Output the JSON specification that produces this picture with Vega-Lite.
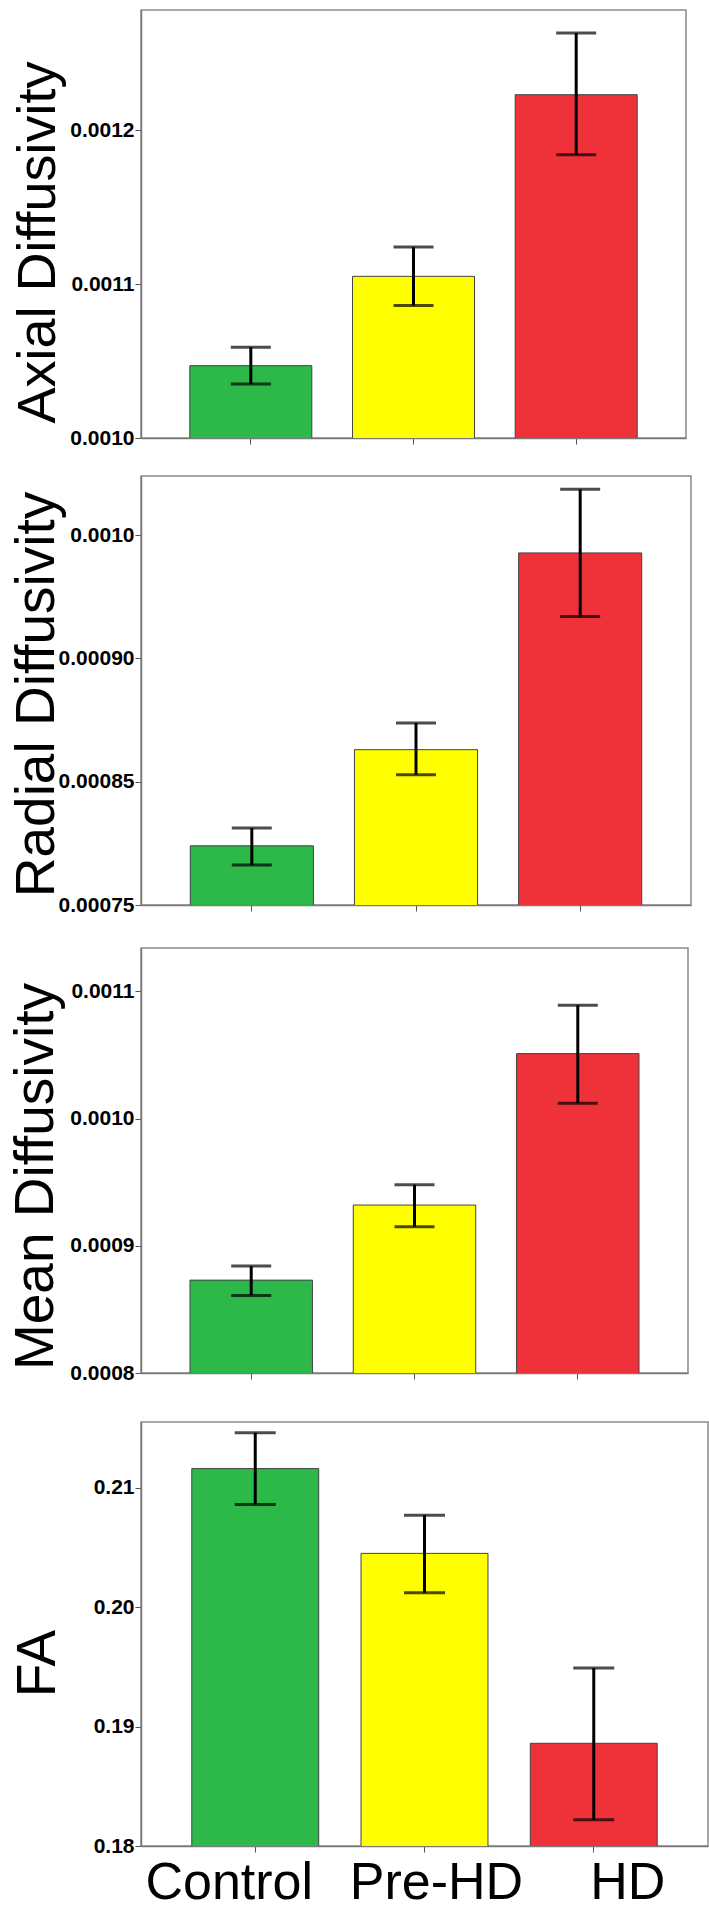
{
  "$schema": "https://vega.github.io/schema/vega-lite/v6.json",
  "background": "white",
  "padding": {"left": 8, "top": 9, "right": 5, "bottom": 0},
  "datasets": {
    "d": [
      {"metric": "AD", "group": "Control", "mean": 0.001047, "lo": 0.001035, "hi": 0.001059},
      {"metric": "AD", "group": "Pre-HD", "mean": 0.001105, "lo": 0.001086, "hi": 0.001124},
      {"metric": "AD", "group": "HD", "mean": 0.001223, "lo": 0.001184, "hi": 0.001263},
      {"metric": "RD", "group": "Control", "mean": 0.000790, "lo": 0.000777, "hi": 0.000802},
      {"metric": "RD", "group": "Pre-HD", "mean": 0.000855, "lo": 0.000838, "hi": 0.000873},
      {"metric": "RD", "group": "HD", "mean": 0.000988, "lo": 0.000945, "hi": 0.001031},
      {"metric": "MD", "group": "Control", "mean": 0.000873, "lo": 0.000861, "hi": 0.000884},
      {"metric": "MD", "group": "Pre-HD", "mean": 0.000932, "lo": 0.000915, "hi": 0.000948},
      {"metric": "MD", "group": "HD", "mean": 0.001051, "lo": 0.001012, "hi": 0.001089},
      {"metric": "FA", "group": "Control", "mean": 0.2116, "lo": 0.2086, "hi": 0.2146},
      {"metric": "FA", "group": "Pre-HD", "mean": 0.2045, "lo": 0.2012, "hi": 0.2077},
      {"metric": "FA", "group": "HD", "mean": 0.1886, "lo": 0.1822, "hi": 0.1949}
    ]
  },
  "config": {
    "view": {"stroke": "#8a8a8a", "strokeWidth": 1.5},
    "axis": {
      "grid": false,
      "domainColor": "#7a7a7a",
      "domainWidth": 1.5,
      "tickColor": "#555555",
      "tickSize": 6,
      "labelFont": "Liberation Sans",
      "labelFontWeight": "bold",
      "labelFontSize": 21,
      "labelColor": "black",
      "labelPadding": 1,
      "labelLimit": 0,
      "titleFont": "Liberation Sans",
      "titleFontWeight": "normal",
      "titleFontSize": 55,
      "titleColor": "black"
    }
  },
  "bounds": "full",
  "spacing": 31,
  "vconcat": [
    {
      "bounds": "flush",
      "spacing": 38,
      "vconcat": [
        {
          "width": 545, "height": 428,
          "data": {"name": "d"},
          "transform": [{"filter": "datum.metric == 'AD'"}],
          "encoding": {
            "x": {"field": "group", "type": "nominal", "sort": ["Control", "Pre-HD", "HD"],
                  "scale": {"paddingInner": 0.25, "paddingOuter": 0.3},
                  "axis": {"title": null, "labels": false, "tickSize": 6}}
          },
          "layer": [
            {"mark": {"type": "bar", "stroke": "#444444", "strokeWidth": 1, "clip": true},
             "encoding": {
               "y": {"field": "mean", "type": "quantitative", "title": "Axial Diffusivity",
                     "scale": {"domain": [0.001, 0.001278], "zero": false, "nice": false},
                     "axis": {"values": [0.001, 0.0011, 0.0012], "format": ".4f", "titlePadding": 4, "titleFontSize": 54, "titleY": 232}},
               "color": {"field": "group", "type": "nominal", "legend": null,
                         "scale": {"domain": ["Control", "Pre-HD", "HD"], "range": ["#2db84a", "#ffff00", "#ef323a"]}}
             }},
            {"mark": {"type": "rule", "color": "black", "strokeWidth": 3},
             "encoding": {"y": {"field": "lo", "type": "quantitative", "title": "Axial Diffusivity"}, "y2": {"field": "hi"}}},
            {"mark": {"type": "tick", "color": "black", "thickness": 3, "size": 40},
             "encoding": {"y": {"field": "lo", "type": "quantitative", "title": "Axial Diffusivity"}}},
            {"mark": {"type": "tick", "color": "black", "thickness": 3, "size": 40},
             "encoding": {"y": {"field": "hi", "type": "quantitative", "title": "Axial Diffusivity"}}}
          ]
        },
        {
          "width": 550, "height": 429,
          "data": {"name": "d"},
          "transform": [{"filter": "datum.metric == 'RD'"}],
          "encoding": {
            "x": {"field": "group", "type": "nominal", "sort": ["Control", "Pre-HD", "HD"],
                  "scale": {"paddingInner": 0.25, "paddingOuter": 0.3},
                  "axis": {"title": null, "labels": false, "tickSize": 6}}
          },
          "layer": [
            {"mark": {"type": "bar", "stroke": "#444444", "strokeWidth": 1, "clip": true},
             "encoding": {
               "y": {"field": "mean", "type": "quantitative", "title": "Radial Diffusivity",
                     "scale": {"domain": [0.00075, 0.00104], "zero": false, "nice": false},
                     "axis": {"values": [0.00075, 0.00083333, 0.00091667, 0.001],
                              "labelExpr": "datum.value < 0.0008 ? '0.00075' : datum.value < 0.00088 ? '0.00085' : datum.value < 0.00095 ? '0.00090' : '0.0010'",
                              "titlePadding": -7, "titleY": 218}},
               "color": {"field": "group", "type": "nominal", "legend": null,
                         "scale": {"domain": ["Control", "Pre-HD", "HD"], "range": ["#2db84a", "#ffff00", "#ef323a"]}}
             }},
            {"mark": {"type": "rule", "color": "black", "strokeWidth": 3},
             "encoding": {"y": {"field": "lo", "type": "quantitative", "title": "Radial Diffusivity"}, "y2": {"field": "hi"}}},
            {"mark": {"type": "tick", "color": "black", "thickness": 3, "size": 40},
             "encoding": {"y": {"field": "lo", "type": "quantitative", "title": "Radial Diffusivity"}}},
            {"mark": {"type": "tick", "color": "black", "thickness": 3, "size": 40},
             "encoding": {"y": {"field": "hi", "type": "quantitative", "title": "Radial Diffusivity"}}}
          ]
        }
      ]
    },
    {
      "bounds": "flush",
      "spacing": 49,
      "vconcat": [
        {
          "width": 547, "height": 425,
          "data": {"name": "d"},
          "transform": [{"filter": "datum.metric == 'MD'"}],
          "encoding": {
            "x": {"field": "group", "type": "nominal", "sort": ["Control", "Pre-HD", "HD"],
                  "scale": {"paddingInner": 0.25, "paddingOuter": 0.3},
                  "axis": {"title": null, "labels": false, "tickSize": 6}}
          },
          "layer": [
            {"mark": {"type": "bar", "stroke": "#444444", "strokeWidth": 1, "clip": true},
             "encoding": {
               "y": {"field": "mean", "type": "quantitative", "title": "Mean Diffusivity",
                     "scale": {"domain": [0.0008, 0.001134], "zero": false, "nice": false},
                     "axis": {"values": [0.0008, 0.0009, 0.001, 0.0011], "format": ".4f", "titlePadding": 5, "titleY": 228}},
               "color": {"field": "group", "type": "nominal", "legend": null,
                         "scale": {"domain": ["Control", "Pre-HD", "HD"], "range": ["#2db84a", "#ffff00", "#ef323a"]}}
             }},
            {"mark": {"type": "rule", "color": "black", "strokeWidth": 3},
             "encoding": {"y": {"field": "lo", "type": "quantitative", "title": "Mean Diffusivity"}, "y2": {"field": "hi"}}},
            {"mark": {"type": "tick", "color": "black", "thickness": 3, "size": 40},
             "encoding": {"y": {"field": "lo", "type": "quantitative", "title": "Mean Diffusivity"}}},
            {"mark": {"type": "tick", "color": "black", "thickness": 3, "size": 40},
             "encoding": {"y": {"field": "hi", "type": "quantitative", "title": "Mean Diffusivity"}}}
          ]
        },
        {
          "width": 567, "height": 424,
          "data": {"name": "d"},
          "transform": [{"filter": "datum.metric == 'FA'"}],
          "encoding": {
            "x": {"field": "group", "type": "nominal", "sort": ["Control", "Pre-HD", "HD"],
                  "scale": {"paddingInner": 0.25, "paddingOuter": 0.3},
                  "axis": {"title": null, "labelAngle": 0, "tickSize": 6,
                           "labelFont": "Liberation Sans", "labelFontWeight": "normal",
                           "labelFontSize": 52, "labelPadding": 46, "labelBaseline": "alphabetic",
                           "labelOffset": {"condition": [{"test": "datum.value == 'Control'", "value": -26}, {"test": "datum.value == 'HD'", "value": 34}], "value": 12}}}
          },
          "layer": [
            {"mark": {"type": "bar", "stroke": "#444444", "strokeWidth": 1, "clip": true},
             "encoding": {
               "y": {"field": "mean", "type": "quantitative", "title": "FA",
                     "scale": {"domain": [0.18, 0.2155], "zero": false, "nice": false},
                     "axis": {"values": [0.18, 0.19, 0.2, 0.21], "format": ".2f", "titlePadding": 27, "titleY": 241}},
               "color": {"field": "group", "type": "nominal", "legend": null,
                         "scale": {"domain": ["Control", "Pre-HD", "HD"], "range": ["#2db84a", "#ffff00", "#ef323a"]}}
             }},
            {"mark": {"type": "rule", "color": "black", "strokeWidth": 3},
             "encoding": {"y": {"field": "lo", "type": "quantitative", "title": "FA"}, "y2": {"field": "hi"}}},
            {"mark": {"type": "tick", "color": "black", "thickness": 3, "size": 41},
             "encoding": {"y": {"field": "lo", "type": "quantitative", "title": "FA"}}},
            {"mark": {"type": "tick", "color": "black", "thickness": 3, "size": 41},
             "encoding": {"y": {"field": "hi", "type": "quantitative", "title": "FA"}}}
          ]
        }
      ]
    }
  ]
}
